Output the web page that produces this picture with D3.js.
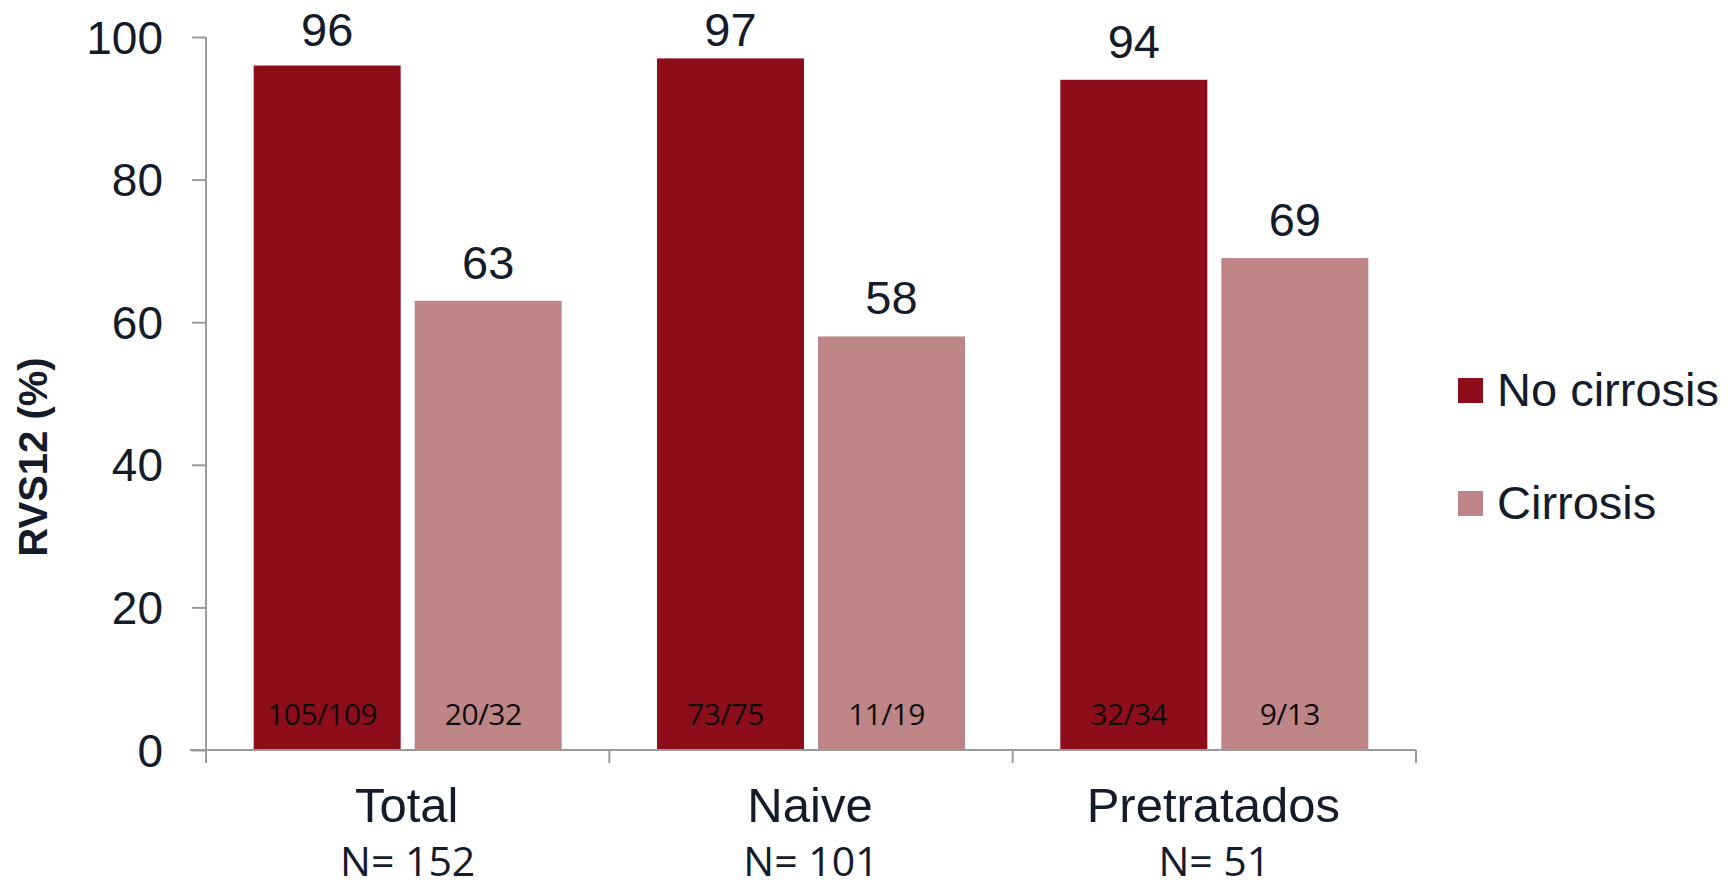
<!DOCTYPE html>
<html>
<head>
<meta charset="utf-8">
<script src="https://cdn.jsdelivr.net/npm/d3@7"></script>
<style>
  html, body { margin: 0; padding: 0; background: #fff; }
  svg { display: block; }
</style>
</head>
<body>
<svg id="chart" width="1736" height="887"></svg>
<script>
// Chart data
const categories = ["Total", "Naive", "Pretratados"];
const groupSizes = ["N= 152", "N= 101", "N= 51"];
const seriesNames = ["No cirrosis", "Cirrosis"];
const noCirrosis = [96, 97, 94];
const cirrosis = [63, 58, 69];
const noCirrosisCounts = ["105/109", "73/75", "32/34"];
const cirrosisCounts = ["20/32", "11/19", "9/13"];
const yTicks = [0, 20, 40, 60, 80, 100];
const yTitle = "RVS12 (%)";

const colors = { "No cirrosis": "#8d0d1b", "Cirrosis": "#be8587" };
const textColor = "#141b2b";
const axisColor = "#9a9a9a";
const sansFont = "'Liberation Sans', Arial, sans-serif";
const humanistFont = "'Open Sans', 'Noto Sans', sans-serif";

const svg = d3.select("#chart");

const plot = { left: 206, right: 1416, top: 37, bottom: 750 };

const x = d3.scaleBand().domain(categories).range([plot.left, plot.right]).padding(0);
const xInner = d3.scaleBand().domain(seriesNames).range([0, x.bandwidth()])
  .paddingInner(0.087).paddingOuter(0.296);
const y = d3.scaleLinear().domain([0, 100]).range([plot.bottom, plot.top]);

const rows = categories.map((c, i) => ({
  category: c,
  values: [
    { series: "No cirrosis", value: noCirrosis[i], count: noCirrosisCounts[i] },
    { series: "Cirrosis", value: cirrosis[i], count: cirrosisCounts[i] }
  ]
}));

// Bars
const groups = svg.append("g").selectAll("g")
  .data(rows).join("g")
  .attr("transform", d => `translate(${x(d.category)},0)`);

groups.selectAll("rect")
  .data(d => d.values).join("rect")
  .attr("x", d => xInner(d.series))
  .attr("y", d => y(d.value))
  .attr("width", xInner.bandwidth())
  .attr("height", d => y(0) - y(d.value))
  .attr("fill", d => colors[d.series]);

// Value labels above bars
groups.selectAll("text.value")
  .data(d => d.values).join("text")
  .attr("class", "value")
  .attr("x", d => xInner(d.series) + xInner.bandwidth() / 2)
  .attr("y", d => Math.max(y(d.value) - 22, 46))
  .attr("text-anchor", "middle")
  .attr("font-family", sansFont)
  .attr("font-size", 47)
  .attr("fill", textColor)
  .text(d => d.value);

// Responder counts at the base of each bar
groups.selectAll("text.count")
  .data(d => d.values).join("text")
  .attr("class", "count")
  .attr("x", d => xInner(d.series) + xInner.bandwidth() / 2 - 5)
  .attr("y", y(0) - 25)
  .attr("text-anchor", "middle")
  .attr("font-family", humanistFont)
  .attr("font-size", 30)
  .attr("letter-spacing", -0.6)
  .attr("fill", "#0d0d0d")
  .text(d => d.count);

// Y axis
const yAxis = svg.append("g")
  .attr("transform", `translate(${plot.left},0)`)
  .call(d3.axisLeft(y).tickValues(yTicks).tickSize(14).tickPadding(29).tickSizeOuter(0));
yAxis.select(".domain").remove();
yAxis.append("line")
  .attr("x1", 0).attr("x2", 0)
  .attr("y1", plot.top).attr("y2", plot.bottom + 13)
  .attr("stroke", axisColor).attr("stroke-width", 2);
yAxis.selectAll(".tick line").attr("stroke", axisColor).attr("stroke-width", 2);
yAxis.selectAll(".tick text")
  .attr("font-family", sansFont)
  .attr("font-size", 46)
  .attr("fill", textColor)
  .attr("dy", "0.35em");

// X axis baseline with category boundary ticks
const xAxisG = svg.append("g");
xAxisG.append("line")
  .attr("x1", plot.left - 16).attr("x2", plot.right)
  .attr("y1", y(0)).attr("y2", y(0))
  .attr("stroke", axisColor).attr("stroke-width", 2);
const boundaries = categories.map(c => x(c) + x.bandwidth());
xAxisG.selectAll("line.sep")
  .data(boundaries).join("line")
  .attr("class", "sep")
  .attr("x1", d => d).attr("x2", d => d)
  .attr("y1", y(0)).attr("y2", y(0) + 13)
  .attr("stroke", axisColor).attr("stroke-width", 2);

// Category labels
xAxisG.selectAll("text.cat")
  .data(categories).join("text")
  .attr("class", "cat")
  .attr("x", d => x(d) + x.bandwidth() / 2 - 1)
  .attr("y", 822)
  .attr("text-anchor", "middle")
  .attr("font-family", sansFont)
  .attr("font-size", 49)
  .attr("fill", textColor)
  .text(d => d);

xAxisG.selectAll("text.n")
  .data(categories).join("text")
  .attr("class", "n")
  .attr("x", d => x(d) + x.bandwidth() / 2)
  .attr("y", 876)
  .attr("text-anchor", "middle")
  .attr("font-family", humanistFont)
  .attr("font-size", 41)
  .attr("fill", textColor)
  .text((d, i) => groupSizes[i]);

// Y axis title
svg.append("text")
  .attr("transform", "translate(47,457) rotate(-90)")
  .attr("text-anchor", "middle")
  .attr("font-family", sansFont)
  .attr("font-weight", "bold")
  .attr("font-size", 40)
  .attr("fill", textColor)
  .text(yTitle);

// Legend
const legend = svg.append("g").selectAll("g")
  .data(seriesNames).join("g")
  .attr("transform", (d, i) => `translate(1458,${378 + i * 113})`);
legend.append("rect")
  .attr("width", 25).attr("height", 25)
  .attr("fill", d => colors[d]);
legend.append("text")
  .attr("x", 39)
  .attr("y", 28)
  .attr("font-family", sansFont)
  .attr("font-size", 47)
  .attr("fill", textColor)
  .text(d => d);
</script>
</body>
</html>
